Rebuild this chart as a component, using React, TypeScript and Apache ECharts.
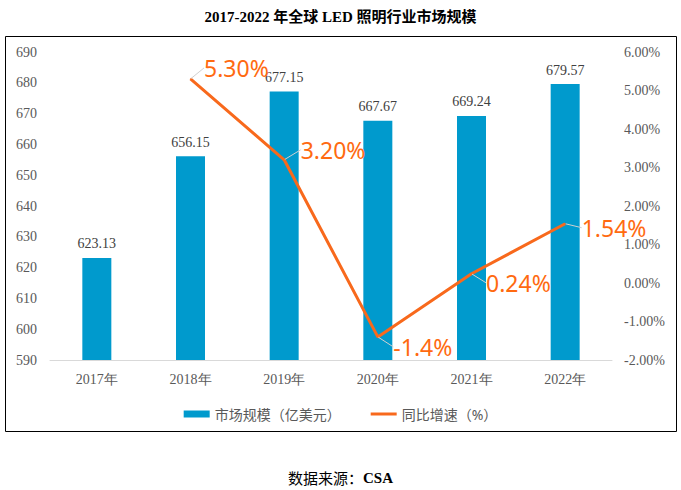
import React, { useEffect, useRef } from "react";
import * as echarts from "echarts";

const titleText = "2017-2022 年全球 LED 照明行业市场规模";
const categories = ["2017年", "2018年", "2019年", "2020年", "2021年", "2022年"];
const marketSize = [623.13, 656.15, 677.15, 667.67, 669.24, 679.57];
const growth: (number | string)[] = ["-", 5.3, 3.2, -1.4, 0.24, 1.54];
const growthLabels = ["", "5.30%", "3.20%", "-1.4%", "0.24%", "1.54%"];
const seriesNames = ["市场规模（亿美元）", "同比增速（%）"];
const sourceLabel = "数据来源：";
const sourceName = "CSA";

// label offsets (dx, dy) for each growth label, by index
const labelOffsets: [number, number][] = [
  [0, 0],
  [8, -11],
  [11, -10],
  [10, 10],
  [9, 9],
  [11, 4],
];

export default function App() {
  const ref = useRef<HTMLDivElement>(null);
  useEffect(() => {
    if (!ref.current) return;
    const chart = echarts.init(ref.current, null, { renderer: "svg" });
    const serif = "'Liberation Serif', 'Times New Roman', serif";
    const sans = "'Noto Sans', 'Noto Sans CJK SC', sans-serif";
    chart.setOption({
      animation: false,
      backgroundColor: "#ffffff",
      title: {
        text: titleText,
        left: "center",
        top: 4,
        textStyle: {
          fontFamily: "'Liberation Serif', 'Noto Sans CJK SC', serif",
          fontWeight: "bold",
          fontSize: 15,
          color: "#000000",
        },
      },
      graphic: [
        {
          type: "rect",
          shape: { x: 5.5, y: 36.5, width: 671, height: 395 },
          style: { fill: "none", stroke: "#000000", lineWidth: 1 },
          silent: true,
          z: -1,
        },
        {
          type: "text",
          left: "center",
          top: 470,
          style: {
            text: "{a|" + sourceLabel + "}{b|" + sourceName + "}",
            rich: {
              a: { fontFamily: "'Noto Sans CJK SC', sans-serif", fontSize: 15, fill: "#000000" },
              b: { fontFamily: serif, fontSize: 15, fontWeight: "bold", fill: "#000000" },
            },
          },
        },
      ],
      legend: {
        top: 402,
        left: "center",
        itemGap: 30,
        itemWidth: 26,
        itemHeight: 7,
        textStyle: { fontFamily: sans, fontSize: 14, color: "#595959" },
        data: [
          { name: seriesNames[0], icon: "rect" },
          {
            name: seriesNames[1],
            icon: "path://M0,0 L26,0 L26,3 L0,3 Z",
            itemStyle: { color: "#F8691C" },
          },
        ],
      },
      grid: { left: 50, right: 69, top: 52, bottom: 130 },
      xAxis: {
        type: "category",
        data: categories,
        axisLine: { onZero: false, lineStyle: { color: "#d9d9d9", width: 1 } },
        axisTick: { show: false },
        axisLabel: { fontFamily: serif, fontSize: 14, color: "#595959", margin: 12 },
      },
      yAxis: [
        {
          type: "value",
          min: 590,
          max: 690,
          interval: 10,
          splitLine: { show: false },
          axisLine: { show: false },
          axisTick: { show: false },
          axisLabel: { fontFamily: serif, fontSize: 14, color: "#595959", margin: 13 },
        },
        {
          type: "value",
          min: -2,
          max: 6,
          interval: 1,
          splitLine: { show: false },
          axisLine: { show: false },
          axisTick: { show: false },
          axisLabel: {
            fontFamily: serif,
            fontSize: 14,
            color: "#595959",
            margin: 12,
            formatter: (v: number) => v.toFixed(2) + "%",
          },
        },
      ],
      series: [
        {
          name: seriesNames[0],
          type: "bar",
          data: marketSize,
          barWidth: 29,
          itemStyle: { color: "#009ACD" },
          label: {
            show: true,
            position: "top",
            distance: 7,
            fontFamily: serif,
            fontSize: 14,
            color: "#404040",
            formatter: (p: any) => p.value.toFixed(2),
          },
        },
        {
          name: seriesNames[1],
          type: "line",
          yAxisIndex: 1,
          data: growth,
          symbol: "circle",
          symbolSize: 1,
          showSymbol: true,
          lineStyle: { color: "#F8691C", width: 3 },
          itemStyle: { color: "#F8691C" },
          label: {
            show: true,
            position: "right",
            distance: 5,
            fontFamily: sans,
            fontSize: 23,
            color: "#FF6A10",
            formatter: (p: any) => growthLabels[p.dataIndex],
          },
          labelLine: { show: true, lineStyle: { color: "#d0d0d0", width: 1 } },
          labelLayout: (p: any) => {
            const o = labelOffsets[p.dataIndex] || [0, 0];
            return { dx: o[0], dy: o[1] };
          },
        },
      ],
    });
    return () => chart.dispose();
  }, []);
  return (
    <div
      ref={ref}
      style={{ position: "fixed", left: 0, top: 0, width: 681, height: 490 }}
    />
  );
}
